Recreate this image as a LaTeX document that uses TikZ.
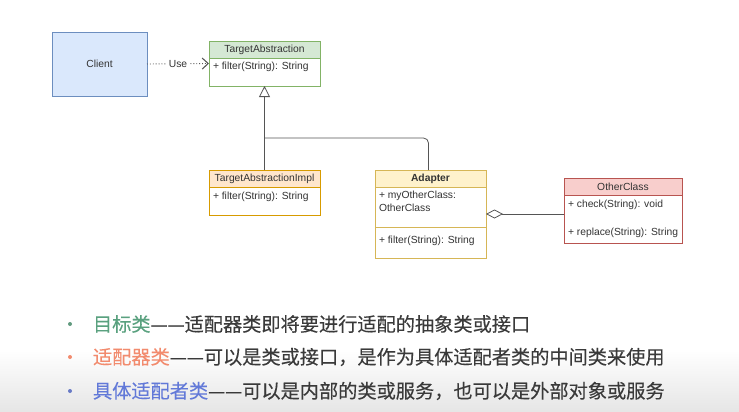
\documentclass[tikz,border=0pt]{standalone}
\usepackage{fontspec}
\setmainfont{Liberation Sans}
\newfontfamily\cjk[FakeBold=0.25]{Noto Sans CJK SC}
\usetikzlibrary{arrows.meta}
\definecolor{txt}{HTML}{333333}
\definecolor{clfill}{HTML}{DAE8FC}\definecolor{cldraw}{HTML}{6C8EBF}
\definecolor{gfill}{HTML}{D5E8D4}\definecolor{gdraw}{HTML}{82B366}
\definecolor{ofill}{HTML}{FFE6CC}\definecolor{odraw}{HTML}{D79B00}
\definecolor{yfill}{HTML}{FFF2CC}\definecolor{ydraw}{HTML}{D6B656}
\definecolor{rfill}{HTML}{F8CECC}\definecolor{rdraw}{HTML}{B85450}
\definecolor{lnc}{HTML}{555555}
\definecolor{cgreen}{HTML}{5AA17F}
\definecolor{csalmon}{HTML}{F28B6E}
\definecolor{cblue}{HTML}{6279D8}
\definecolor{body}{HTML}{3A3A3A}
\newcommand\cjkdash{\makebox[17pt][c]{—}}
\begin{document}
\begin{tikzpicture}[x=1pt,y=-1pt,
  every node/.style={inner sep=0pt, outer sep=0pt, text=txt},
  dfont/.style={font=\fontsize{10.3}{12}\selectfont},
  classbox/.style={draw=#1, fill=white, anchor=north west, line width=0.6pt},
  hdr/.style={draw=#1, anchor=north west, line width=0.6pt, minimum height=17pt, dfont},
  member/.style={anchor=west, font=\fontsize{10.3}{12.5}\selectfont, align=left},
  conn/.style={draw=lnc, line width=0.8pt},
  bul/.style={circle, minimum size=4pt, fill=#1},
  cjkline/.style={anchor=west, font=\fontsize{19.2}{22}\cjk, text=body}
]
\useasboundingbox (0,0) rectangle (739,412);
\shade[top color=white, bottom color=black!10] (0,350) rectangle (739,412);

% Client
\node[draw=cldraw, fill=clfill, line width=0.6pt, minimum width=95pt, minimum height=64pt, anchor=north west, dfont] (client) at (52,32) {Client};

% TargetAbstraction
\node[classbox=gdraw, minimum width=111pt, minimum height=45pt] (ta) at (209,41) {};
\node[hdr=gdraw, fill=gfill, minimum width=111pt] (tah) at (209,41) {TargetAbstraction};
\node[member] (tam) at (213,67) {+ filter(String): String};

% TargetAbstractionImpl
\node[classbox=odraw, minimum width=111pt, minimum height=45pt] (tai) at (209,170) {};
\node[hdr=odraw, fill=ofill, minimum width=111pt] (taih) at (209,170) {TargetAbstractionImpl};
\node[member] (taim) at (213,197) {+ filter(String): String};

% Adapter
\node[classbox=ydraw, minimum width=111pt, minimum height=88pt] (ad) at (375,170) {};
\node[hdr=ydraw, fill=yfill, minimum width=111pt, font=\fontsize{10.3}{12}\selectfont\bfseries] (adh) at (375,170) {Adapter};
\node[member, anchor=north west] (ada) at (379,191.5) {+ myOtherClass:\\OtherClass};
\coordinate (sepl) at (375,227);
\coordinate (sepr) at (486,227);
\draw[draw=ydraw, line width=0.6pt] (sepl) -- (sepr);
\node[member] (adm) at (379,241) {+ filter(String): String};

% OtherClass
\node[classbox=rdraw, minimum width=118pt, minimum height=65pt] (oc) at (564,178) {};
\node[hdr=rdraw, fill=rfill, minimum width=118pt] (och) at (564,178) {OtherClass};
\node[member] (ocm1) at (568,205) {+ check(String): void};
\node[member] (ocm2) at (568,233) {+ replace(String): String};

% connectors
\draw[draw=black!65, line width=0.9pt, dotted, -{Straight Barb[length=6pt,width=11pt,line width=1.1pt]}] (client.east) -- node[fill=white, inner xsep=1.5pt, inner ysep=1pt, dfont] (use) {Use} (ta.west);
\draw[conn, -{Triangle[open, length=11pt, width=11pt, fill=white]}] (tai.north) -- (ta.south);
\coordinate (j) at (264.5,138);
\draw[conn, rounded corners=5pt] ([xshift=-2pt]ad.north) |- (j);
\draw[conn, {Diamond[open, length=17pt, width=9pt, fill=white]}-] (ad.east) -- (ad.east -| oc.west);

% bottom text
\node[bul=cgreen!80!gray] (b1) at (70,324) {};
\node[cjkline] (t1) at (93,324) {\textcolor{cgreen}{目标类}\cjkdash\cjkdash 适配器类即将要进行适配的抽象类或接口};
\node[bul=csalmon] (b2) at (70,357) {};
\node[cjkline] (t2) at (93,357) {\textcolor{csalmon}{适配器类}\cjkdash\cjkdash 可以是类或接口，是作为具体适配者类的中间类来使用};
\node[bul=cblue!80!gray] (b3) at (70,391) {};
\node[cjkline] (t3) at (93,391) {\textcolor{cblue}{具体适配者类}\cjkdash\cjkdash 可以是内部的类或服务，也可以是外部对象或服务};
\end{tikzpicture}
\end{document}
